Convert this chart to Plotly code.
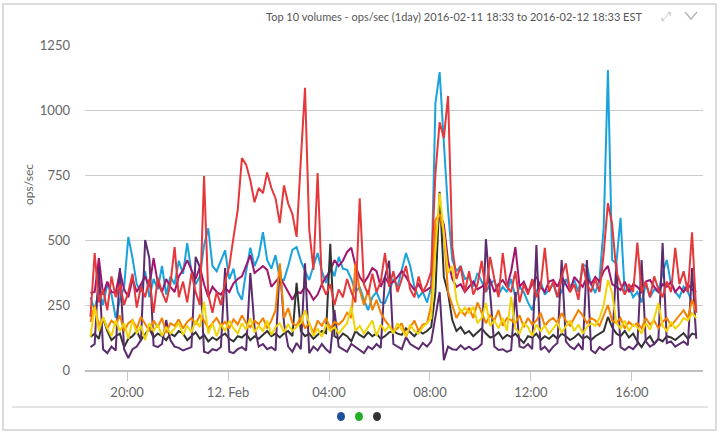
import pandas as pd
import plotly.graph_objects as go

# ---- data (ops/sec, 10-minute samples from 2016-02-11 18:33 EST) ----
start_time = "2016-02-11 18:33"
n_points = 145

red = [205, 450, 260, 310, 230, 360, 280, 330, 250, 300,
       370, 240, 320, 280, 350, 220, 355, 300, 260, 330,
       473, 280, 340, 260, 373, 300, 250, 746, 290, 220,
       300, 250, 340, 400, 510, 615, 815, 790, 730, 645,
       700, 680, 760, 700, 660, 565, 710, 640, 600, 512,
       808, 1085, 540, 385, 758, 330, 290, 330, 250, 310,
       280, 350, 300, 260, 660, 330, 290, 370, 300, 340,
       450, 320, 380, 300, 350, 400, 310, 280, 360, 300,
       330, 380, 757, 953, 892, 1054, 473, 350, 400, 300,
       380, 290, 330, 420, 300, 435, 350, 280, 450, 320,
       300, 380, 260, 330, 290, 350, 280, 320, 470, 300,
       340, 280, 360, 410, 300, 330, 270, 410, 330, 300,
       350, 300, 450, 642, 560, 380, 330, 290, 330, 300,
       490, 300, 340, 280, 360, 310, 280, 340, 300, 470,
       330, 380, 300, 530, 220]

blue = [280, 230, 310, 250, 330, 290, 200, 270, 320, 512,
        430, 330, 300, 380, 280, 350, 310, 400, 290, 360,
        330, 420, 370, 488, 380, 330, 360, 480, 545, 400,
        380, 420, 460, 350, 390, 300, 270, 380, 470, 400,
        440, 530, 423, 390, 442, 350, 346, 400, 462, 473,
        420, 380, 346, 400, 450, 380, 335, 400, 360, 435,
        390, 385, 350, 300, 320, 270, 230, 280, 300, 260,
        258, 300, 350, 320, 390, 450, 400, 320, 280, 300,
        260, 320, 1027, 1146, 873, 615, 423, 380, 400, 350,
        358, 320, 373, 340, 300, 330, 346, 290, 320, 300,
        350, 280, 320, 300, 260, 230, 300, 340, 290, 310,
        330, 280, 300, 350, 320, 346, 300, 404, 400, 330,
        296, 350, 550, 1154, 423, 410, 585, 296, 320, 280,
        300, 260, 330, 280, 310, 300, 373, 423, 330, 300,
        280, 320, 300, 260, 258]

magenta = [296, 300, 430, 290, 340, 300, 296, 380, 310, 280,
           350, 300, 330, 360, 320, 430, 335, 300, 350, 320,
           300, 360, 385, 423, 385, 350, 396, 330, 281, 320,
           300, 290, 315, 300, 333, 350, 360, 404, 442, 373,
           385, 400, 385, 320, 340, 358, 330, 300, 270, 300,
           296, 320, 300, 270, 290, 330, 358, 380, 423, 400,
           420, 454, 470, 400, 358, 335, 360, 392, 380, 320,
           358, 330, 340, 358, 380, 358, 330, 308, 330, 300,
           308, 320, 500, 600, 560, 420, 350, 320, 330, 300,
           320, 340, 310, 320, 330, 346, 300, 330, 346, 320,
           380, 473, 320, 340, 300, 330, 360, 320, 300, 340,
           346, 320, 360, 330, 300, 358, 340, 320, 358, 330,
           358, 340, 380, 400, 330, 320, 308, 340, 300, 330,
           320, 300, 340, 346, 320, 300, 330, 320, 340, 300,
           320, 300, 330, 310, 300]

purple = [88, 100, 396, 80, 65, 90, 75, 392, 80, 46,
          80, 90, 115, 500, 430, 95, 88, 100, 192, 115,
          90, 85, 75, 80, 88, 435, 396, 70, 65, 80,
          75, 88, 392, 70, 65, 80, 88, 75, 373, 165,
          90, 100, 80, 88, 75, 404, 180, 90, 70, 104,
          80, 410, 65, 90, 75, 100, 80, 65, 230, 90,
          80, 70, 100, 88, 75, 65, 90, 80, 100, 85,
          358, 420, 100, 90, 80, 127, 100, 90, 80, 104,
          90, 110, 200, 300, 38, 90, 80, 77, 95, 80,
          90, 77, 85, 100, 504, 308, 90, 77, 80, 70,
          77, 300, 90, 85, 100, 80, 481, 77, 90, 70,
          90, 104, 423, 110, 90, 80, 100, 77, 423, 77,
          65, 88, 77, 90, 100, 410, 88, 77, 90, 80,
          100, 423, 110, 90, 100, 120, 488, 104, 110, 90,
          100, 110, 95, 392, 120]

black = [127, 140, 120, 200, 150, 115, 130, 140, 88, 120,
         130, 150, 115, 140, 160, 125, 140, 130, 115, 140,
         130, 150, 140, 115, 130, 145, 120, 135, 110, 125,
         115, 130, 140, 120, 110, 130, 125, 140, 115, 130,
         120, 135, 150, 130, 140, 125, 140, 150, 130, 335,
         150, 130, 140, 120, 135, 150, 142, 485, 130, 120,
         140, 130, 110, 150, 135, 125, 145, 130, 140, 120,
         130, 145, 150, 140, 135, 160, 145, 130, 150, 140,
         150, 165, 300, 685, 358, 296, 192, 150, 165, 140,
         150, 130, 145, 160, 140, 125, 130, 145, 120, 135,
         127, 140, 120, 104, 130, 125, 140, 115, 130, 120,
         135, 120, 140, 130, 115, 125, 140, 120, 130, 115,
         130, 140, 150, 204, 165, 140, 130, 150, 125, 140,
         110, 88, 115, 130, 100, 120, 110, 130, 125, 115,
         130, 142, 120, 140, 135]

orange = [185, 250, 170, 200, 160, 190, 175, 210, 150, 180,
          192, 160, 204, 175, 150, 190, 165, 200, 142, 180,
          170, 195, 160, 185, 200, 175, 210, 190, 160, 180,
          200, 170, 185, 160, 195, 175, 210, 180, 165, 190,
          175, 200, 160, 190, 230, 410, 200, 238, 180, 170,
          204, 160, 180, 142, 190, 170, 200, 160, 185, 175,
          190, 220, 200, 410, 308, 250, 308, 230, 270, 220,
          192, 170, 150, 160, 180, 127, 165, 190, 150, 175,
          180, 250, 577, 600, 527, 300, 250, 200, 230, 210,
          240, 200, 260, 220, 180, 210, 190, 230, 170, 200,
          192, 180, 210, 165, 200, 175, 190, 220, 170, 190,
          200, 180, 219, 190, 170, 200, 230, 210, 180, 200,
          190, 170, 210, 250, 190, 180, 200, 160, 185, 170,
          180, 160, 200, 175, 190, 160, 185, 200, 170, 190,
          210, 230, 200, 270, 220]

yellow = [127, 243, 150, 204, 160, 130, 190, 150, 180, 120,
          192, 140, 170, 115, 180, 150, 175, 130, 165, 140,
          160, 180, 135, 170, 145, 190, 165, 262, 140, 180,
          130, 175, 150, 190, 160, 140, 180, 155, 200, 145,
          170, 150, 190, 135, 165, 180, 145, 175, 150, 165,
          181, 230, 181, 130, 160, 127, 175, 150, 165, 140,
          160, 180, 243, 150, 170, 140, 165, 190, 130, 175,
          150, 170, 140, 180, 155, 130, 175, 150, 140, 165,
          180, 200, 462, 680, 527, 373, 400, 270, 219, 240,
          220, 243, 180, 200, 258, 170, 190, 160, 200, 150,
          281, 160, 140, 180, 165, 130, 175, 150, 170, 140,
          160, 180, 145, 170, 190, 150, 175, 140, 165, 180,
          170, 200, 250, 346, 296, 180, 160, 190, 150, 175,
          165, 140, 180, 155, 200, 258, 170, 150, 185, 160,
          175, 200, 190, 219, 200]

tick_vals = ["2016-02-11 20:00", "2016-02-12 00:00", "2016-02-12 04:00",
             "2016-02-12 08:00", "2016-02-12 12:00", "2016-02-12 16:00"]
tick_text = ["20:00", "12. Feb", "04:00", "08:00", "12:00", "16:00"]
y_ticks = [0, 250, 500, 750, 1000, 1250]

title_text = "Top 10 volumes - ops/sec (1day) 2016-02-11 18:33 to 2016-02-12 18:33 EST"
nav_dot_colors = ["#1d4f9e", "#22b02a", "#333333"]

# ---- figure ----
times = pd.date_range(start_time, periods=n_points, freq="10min")

series = [
    ("blue", blue, "#1aa2dc"),
    ("magenta", magenta, "#a1156f"),
    ("black", black, "#333333"),
    ("purple", purple, "#5c2c6e"),
    ("orange", orange, "#f58000"),
    ("red", red, "#e5383b"),
    ("yellow", yellow, "#f0d50a"),
]

fig = go.Figure()
for name, vals, col in series:
    fig.add_trace(go.Scatter(x=times, y=vals, mode="lines", name=name,
                             line=dict(color=col, width=2), hoverinfo="skip"))

W, H = 720, 433
L, R, T, B = 85, 17, 45, 63
pw, ph = W - L - R, H - T - B


def px(xp):
    return (xp - L) / pw


def py(yp):
    return (H - B - yp) / ph


shapes = [
    # card border
    dict(type="rect", xref="paper", yref="paper", x0=px(3), x1=px(716),
         y0=py(430), y1=py(4), line=dict(color="#dcdcdc", width=2),
         fillcolor="rgba(0,0,0,0)", layer="below"),
    # separator line
    dict(type="line", xref="paper", yref="paper", x0=px(12), x1=px(708),
         y0=py(407), y1=py(407), line=dict(color="#c8c8c8", width=1)),
    # chevron icon
    dict(type="path", xref="paper", yref="paper",
         path="M {} {} L {} {} L {} {}".format(px(685), py(12), px(691), py(19), px(697), py(12)),
         line=dict(color="#b8b8b8", width=1.5)),
]
for i, c in enumerate(nav_dot_colors):
    cx = 341 + 18 * i
    shapes.append(dict(type="circle", xref="paper", yref="paper",
                       x0=px(cx - 4), x1=px(cx + 4), y0=py(421), y1=py(412),
                       fillcolor=c, line=dict(width=0)))

annotations = [
    dict(text=title_text, xref="paper", yref="paper", x=px(454), y=py(17),
         xanchor="center", yanchor="middle", showarrow=False,
         font=dict(family="Lato", size=11, color="#555555")),
    dict(text="⤢", xref="paper", yref="paper", x=px(666), y=py(16),
         xanchor="center", yanchor="middle", showarrow=False,
         font=dict(family="DejaVu Sans", size=13, color="#c8c8c8")),
    dict(text="ops/sec", xref="paper", yref="paper", x=px(28), y=py(185),
         xanchor="center", yanchor="middle", showarrow=False, textangle=-90,
         font=dict(family="Lato", size=12, color="#666666")),
]

fig.update_layout(
    width=W, height=H,
    margin=dict(l=L, r=R, t=T, b=B),
    paper_bgcolor="white", plot_bgcolor="white",
    showlegend=False,
    font=dict(family="Lato", color="#666666"),
    shapes=shapes, annotations=annotations,
    hovermode=False,
)
fig.update_xaxes(
    type="date",
    range=["2016-02-11 18:20", "2016-02-12 18:49"],
    tickvals=tick_vals, ticktext=tick_text,
    showgrid=False, showline=True, linecolor="#c0c0c0", linewidth=2,
    ticks="outside", ticklen=9, tickcolor="#c8c8c8", tickwidth=1,
    tickfont=dict(family="Lato", size=13, color="#666666"),
    zeroline=False,
)
fig.update_yaxes(
    range=[0, 1250], tickvals=y_ticks,
    showgrid=True, gridcolor="#cccccc", gridwidth=1,
    zeroline=False, showline=False,
    tickfont=dict(family="Lato", size=13, color="#666666"),
    ticklabelstandoff=14,
)

fig.write_html("out.html", config={"displayModeBar": False},
               post_script="document.body.style.margin='0';document.body.style.overflow='hidden';")
